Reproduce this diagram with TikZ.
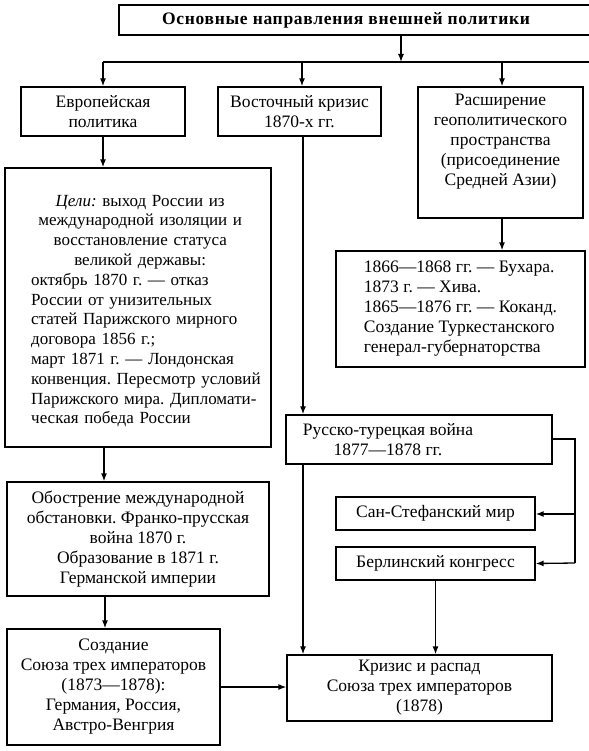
\documentclass[tikz,border=0pt]{standalone}
\usepackage{fontspec}
\setmainfont{Liberation Serif}
\usetikzlibrary{arrows.meta,calc}
\frenchspacing
\newcommand{\ctrline}[1]{\makebox[218pt][c]{#1}}
\begin{document}
\begin{tikzpicture}[x=1pt,y=-1pt,
  box/.style={draw,line width=1.3pt,rectangle,inner sep=0pt,align=center,
    font=\fontsize{17.5}{20}\selectfont},
  txt/.style={inner sep=0pt,font=\fontsize{17.5}{20}\selectfont},
  conn/.style={line width=1.3pt},
  arr/.style={line width=1.3pt,-{Latex[length=8pt,width=6pt]}}]
\useasboundingbox (0,0) rectangle (588,751);
\fill[white] (0,0) rectangle (588,751);
% top
\node[box,minimum width=501,minimum height=30] (top) at (369.5,20) {};
\node[txt,font=\fontsize{17.5}{20}\bfseries\addfontfeature{LetterSpace=4}] (toptxt) at (346,20) {Основные направления внешней политики};
\coordinate (topx) at (401,0);
\coordinate (bus) at (401,62);
\coordinate (busL) at (103,62);
\coordinate (busR) at (600,62);
% row 1
\node[box,minimum width=164,minimum height=49] (eur) at (103,111.5) {Европейская\\политика};
\node[box,minimum width=163,minimum height=49] (voc) at (299.5,111.5) {Восточный кризис\\1870-х гг.};
\node[box,minimum width=165,minimum height=131] (exp) at (500.5,152.5) {};
\node[txt,align=center] (exptxt) at (500.5,142) {Расширение\\геополитического\\пространства\\(присоединение\\Средней Азии)};
% goals
\node[box,minimum width=266,minimum height=279] (goals) at (138,307.5) {};
\node[txt,font=\fontsize{17}{19.8}\selectfont,text width=238,align=left,anchor=west] (goalstxt) at (31,311) {%
\ctrline{\textit{Цели:} выход России из}\\
\ctrline{международной изоляции и}\\
\ctrline{восстановление статуса}\\
\ctrline{великой державы:}\\
октябрь 1870 г. — отказ\\
России от унизительных\\
статей Парижского мирного\\
договора 1856 г.;\\
март 1871 г. — Лондонская\\
конвенция. Пересмотр условий\\
Парижского мира. Дипломати-\\
ческая победа России};
% central asia
\node[box,minimum width=249,minimum height=116,align=left] (ca) at (460.5,309) {1866—1868 гг. — Бухара.\\1873 г. — Хива.\\1865—1876 гг. — Коканд.\\Создание Туркестанского\\генерал-губернаторства};
% Russo-Turkish war
\node[box,minimum width=266,minimum height=49] (rt) at (419,439.5) {};
\node[txt,align=center] (rttxt) at (388,439.5) {Русско-турецкая война\\1877—1878 гг.};
\node[box,minimum width=199,minimum height=33] (san) at (435.5,513.5) {Сан-Стефанский мир};
\node[box,minimum width=199,minimum height=33] (ber) at (435.5,563.5) {Берлинский конгресс};
\node[box,minimum width=265,minimum height=66] (cri) at (419.5,688) {Кризис и распад\\Союза трех императоров\\(1878)};
% left column
\node[box,minimum width=262,minimum height=114] (obo) at (138,539) {Обострение международной\\обстановки. Франко-прусская\\война 1870 г.\\Образование в 1871 г.\\Германской империи};
\node[box,minimum width=213,minimum height=116] (soz) at (113.5,687) {Создание\\Союза трех императоров\\(1873—1878):\\Германия, Россия,\\Австро-Венгрия};
% connectors
\draw[arr] (top.south -| topx) -- (bus);
\draw[conn] (busL) -- (busR);
\draw[arr] (busL) -- (eur.north);
\draw[arr] (bus -| 302,0) -- (voc.north -| 302,0);
\draw[arr] (bus -| 502,0) -- (exp.north -| 502,0);
\draw[arr] (eur.south) -- (eur.south |- goals.north);
\draw[arr] (voc.south -| 303,0) -- (rt.north -| 303,0);
\draw[arr] (exp.south -| 502,0) -- (ca.north -| 502,0);
\draw[arr] (goals.south -| 104,0) -- (obo.north -| 104,0);
\draw[arr] (obo.south -| 105,0) -- (soz.north -| 105,0);
\draw[arr] (soz.east) -- (soz.east -| cri.west);
\coordinate (rtc) at (575,439);
\draw[conn] (rt.east |- rtc) -- (rtc) -- (575,563);
\draw[arr] (575,514) -- (san.east |- 0,514);
\draw[arr] (575,563) -- (ber.east);
\draw[arr] (ber.south) -- (cri.north -| ber.south);
\draw[arr] (rt.south -| 303,0) -- (cri.north -| 303,0);
\end{tikzpicture}
\end{document}
